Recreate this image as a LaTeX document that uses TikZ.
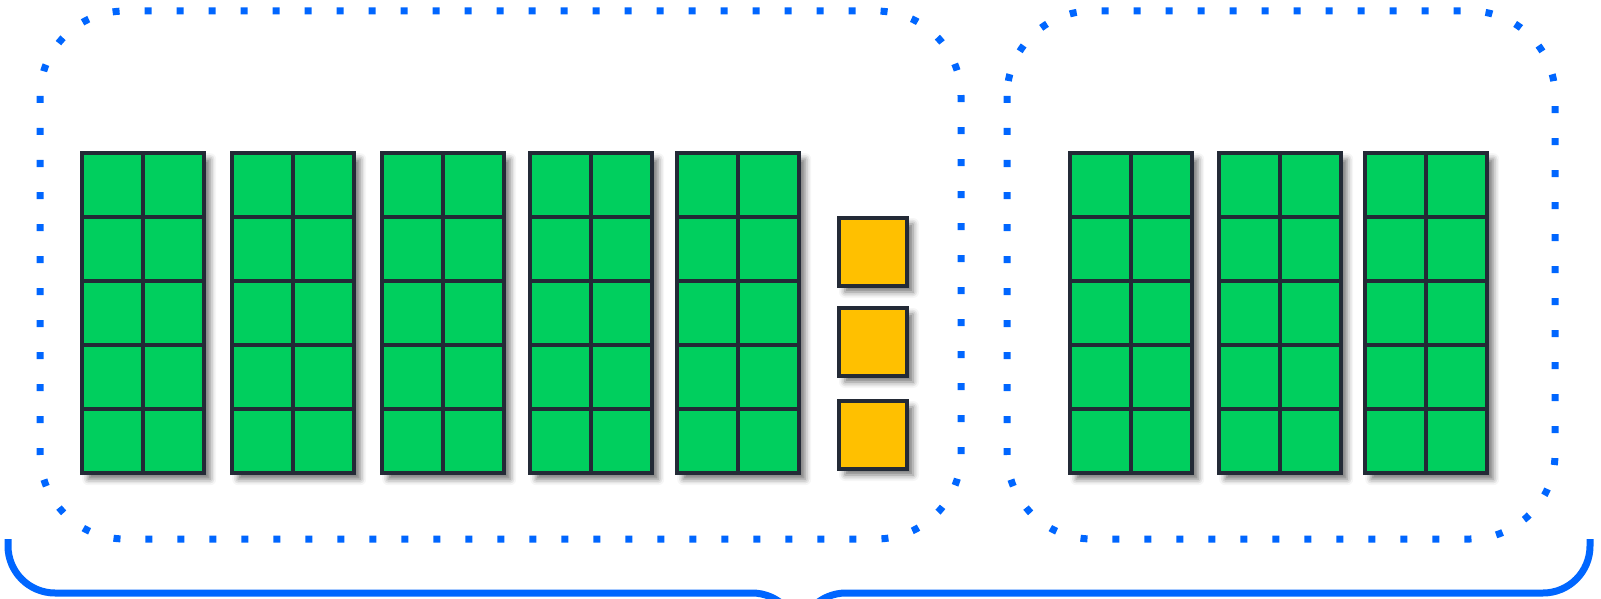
\documentclass[tikz,border=0pt]{standalone}
\usepackage{tikz}
\usetikzlibrary{positioning,shadows.blur}

\definecolor{cellgreen}{RGB}{0,207,94}
\definecolor{spareyellow}{RGB}{255,192,0}
\definecolor{gridline}{RGB}{35,42,54}
\definecolor{linkblue}{RGB}{0,102,255}

\begin{document}
\begin{tikzpicture}[x=1pt,y=-1pt,
            cell/.style={draw=gridline,line width=3.5pt,fill=cellgreen,minimum width=61pt,minimum height=64pt,inner sep=0pt,outer sep=0pt},
            block/.style={fill=white,minimum width=122pt,minimum height=320pt,anchor=north west,inner sep=0pt,
              blur shadow={shadow xshift=6pt,shadow yshift=-6pt,shadow blur radius=6pt,shadow opacity=55}},
            spare/.style={draw=gridline,line width=3.5pt,fill=spareyellow,minimum size=68pt,inner sep=0pt,
              blur shadow={shadow xshift=6pt,shadow yshift=-6pt,shadow blur radius=6pt,shadow opacity=55}},
            group/.style={draw=linkblue,line width=7pt,dash pattern=on 7pt off 25pt,rounded corners=85pt},
            brace/.style={draw=linkblue,line width=7pt}
          ]
          \useasboundingbox (0,0) rectangle (1601,599);

          %groups
          \path[group] (40,11) rectangle (961,539);
          \path[group] (1007,11) rectangle (1555,539);

          %blocks of cells
          \foreach \x [count=\n] in {82,232,382,530,677,1070,1219,1365} {
            \node[block] (b\n) at (\x,153) {};
            \foreach \r in {1,...,5}
              \foreach \c in {1,2}
                \node[cell] (b\n-\r\c) at (\x+30.5+61*\c-61,153+32+64*\r-64) {};
          }

          %spare cells
          \foreach \y [count=\k] in {252,342,435}
            \node[spare] (s\k) at (873,\y) {};

          %brace
          \path[brace] (8,539) -- (8,546) arc[start angle=180,end angle=270,radius=47pt]
            -- (752,593) arc[start angle=90,end angle=0,radius=47pt]
            arc[start angle=180,end angle=90,radius=47pt]
            -- (1543,593) arc[start angle=270,end angle=360,radius=47pt] -- (1590,539);

      \end{tikzpicture}
\end{document}
